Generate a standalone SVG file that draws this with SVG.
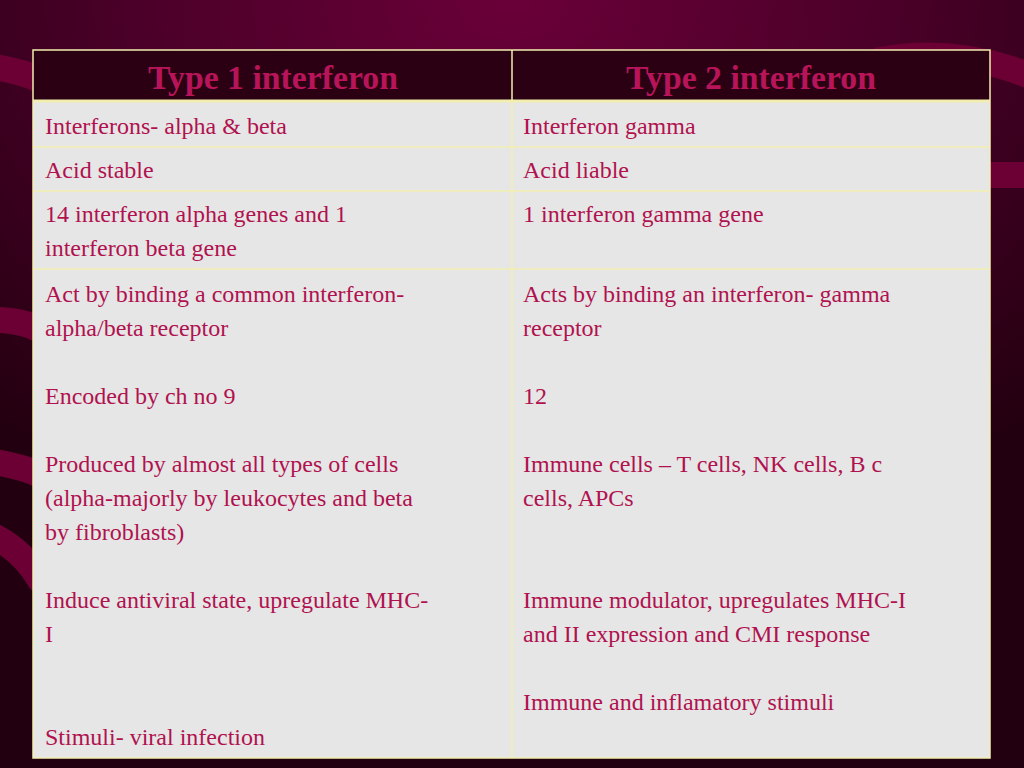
<svg xmlns="http://www.w3.org/2000/svg" width="1024" height="768" viewBox="0 0 1024 768">
<defs>
<radialGradient id="bg" cx="0.5" cy="0" r="0.75">
<stop offset="0" stop-color="#6a0038"/>
<stop offset="0.5" stop-color="#4a0028"/>
<stop offset="1" stop-color="#22000f"/>
</radialGradient>
<style>
.ln{stroke:#f2eeb0;stroke-width:1.5;fill:none}
.st{fill:none;stroke:#6c0034;stroke-width:26;stroke-linecap:round}
</style>
</defs>
<rect width="1024" height="768" fill="url(#bg)"/>
<g id="stripes">
<path class="st" d="M-20 65 Q20 70 40 80"/>
<path class="st" d="M-20 320 Q20 318 40 330"/>
<path class="st" d="M-20 460 Q20 465 40 475"/>
<path class="st" d="M-20 530 Q20 545 40 580"/>
<path class="st" d="M880 60 Q960 45 1040 80"/>
<path class="st" d="M990 175 L1040 175"/>
</g>
<g id="table">
<rect x="33" y="50" width="957" height="51" fill="#2a0012"/>
<rect x="33" y="101" width="957" height="657" fill="#e6e6e6"/>
<rect x="33" y="50" width="957" height="708" class="ln"/>
<line class="ln" x1="512" y1="50" x2="512" y2="758"/>
<line class="ln" x1="33" y1="101" x2="990" y2="101" style="stroke-width:3"/>
<line class="ln" x1="33" y1="147" x2="990" y2="147"/>
<line class="ln" x1="33" y1="191" x2="990" y2="191"/>
<line class="ln" x1="33" y1="269" x2="990" y2="269"/>
</g>
<g id="header" font-family="Liberation Serif, Times New Roman, DejaVu Serif, serif" font-size="33" font-weight="bold" fill="#b8145a">
<text x="273" y="89" text-anchor="middle" textLength="250" lengthAdjust="spacingAndGlyphs">Type 1 interferon</text>
<text x="751" y="89" text-anchor="middle" textLength="250" lengthAdjust="spacingAndGlyphs">Type 2 interferon</text>
</g>
<g id="col1" font-family="Liberation Serif, Times New Roman, DejaVu Serif, serif" font-size="24" fill="#b0124f">
<text x="45" y="134">Interferons- alpha &amp; beta</text>
<text x="45" y="178">Acid stable</text>
<text x="45" y="222">14 interferon alpha genes and 1</text>
<text x="45" y="256">interferon beta gene</text>
<text x="45" y="302">Act by binding a common interferon-</text>
<text x="45" y="336">alpha/beta receptor</text>
<text x="45" y="404">Encoded by ch no 9</text>
<text x="45" y="472">Produced by almost all types of cells</text>
<text x="45" y="506">(alpha-majorly by leukocytes and beta</text>
<text x="45" y="540">by fibroblasts)</text>
<text x="45" y="608">Induce antiviral state, upregulate MHC-</text>
<text x="45" y="642">I</text>
<text x="45" y="745">Stimuli- viral infection</text>
</g>
<g id="col2" font-family="Liberation Serif, Times New Roman, DejaVu Serif, serif" font-size="24" fill="#b0124f">
<text x="523" y="134">Interferon gamma</text>
<text x="523" y="178">Acid liable</text>
<text x="523" y="222">1 interferon gamma gene</text>
<text x="523" y="302">Acts by binding an interferon- gamma</text>
<text x="523" y="336">receptor</text>
<text x="523" y="404">12</text>
<text x="523" y="472">Immune cells – T cells, NK cells, B c</text>
<text x="523" y="506">cells, APCs</text>
<text x="523" y="608">Immune modulator, upregulates MHC-I</text>
<text x="523" y="642">and II expression and CMI response</text>
<text x="523" y="710">Immune and inflamatory stimuli</text>
</g>
</svg>
